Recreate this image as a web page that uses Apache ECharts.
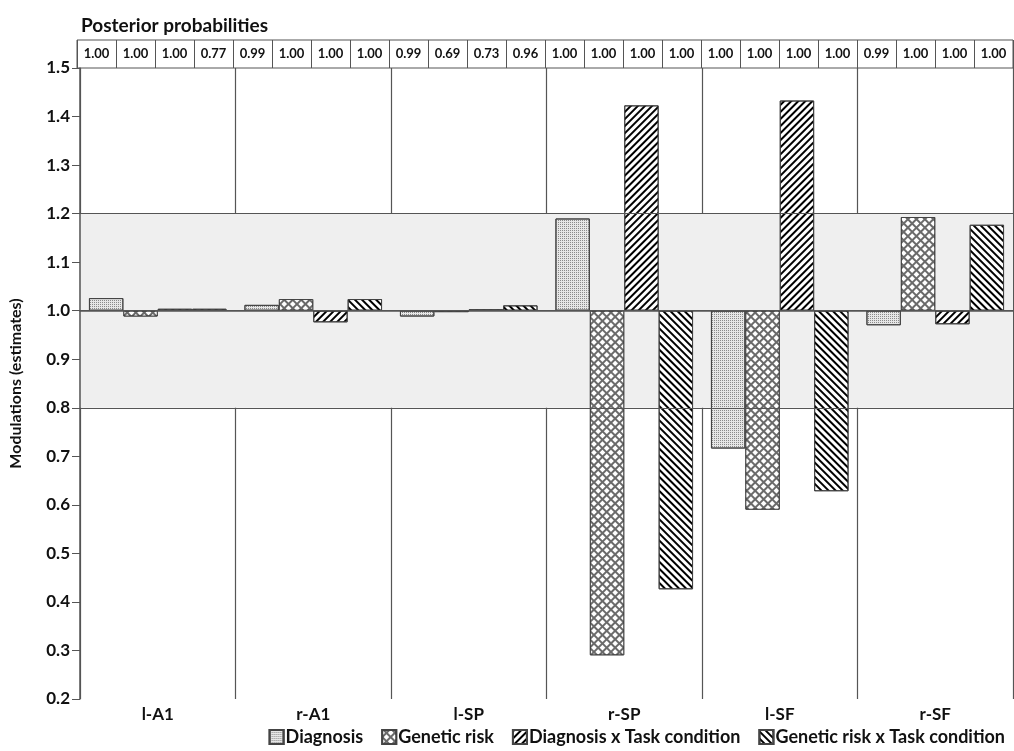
<!DOCTYPE html>
<html>
<head>
<meta charset="utf-8">
<script src="https://cdn.jsdelivr.net/npm/echarts@6/dist/echarts.min.js"></script>
<style>
html,body{margin:0;padding:0;background:#fff;}
#chart{width:1014px;height:751px;}
</style>
</head>
<body>
<div id="chart"></div>
<script>
var categories = ['l-A1', 'r-A1', 'l-SP', 'r-SP', 'l-SF', 'r-SF'];
var seriesNames = ['Diagnosis', 'Genetic risk', 'Diagnosis x Task condition', 'Genetic risk x Task condition'];
var diagnosis = [1.026, 1.012, 0.988, 1.190, 0.716, 0.970];
var geneticRisk = [0.988, 1.024, 0.997, 0.290, 0.590, 1.193];
var diagnosisTask = [1.004, 0.976, 1.003, 1.423, 1.433, 0.972];
var geneticTask = [1.004, 1.024, 1.011, 0.426, 0.628, 1.177];
var posteriorProbs = [
  '1.00', '1.00', '1.00', '0.77',
  '0.99', '1.00', '1.00', '1.00',
  '0.99', '0.69', '0.73', '0.96',
  '1.00', '1.00', '1.00', '1.00',
  '1.00', '1.00', '1.00', '1.00',
  '0.99', '1.00', '1.00', '1.00'
];
var yTicks = {min: 0.2, max: 1.5, interval: 0.1};
var baseline = 1.0;

var FONT = 'Lato';
var chart = echarts.init(document.getElementById('chart'), null, {renderer: 'canvas'});

function rel(arr) { return arr.map(function (v) { return +(v - baseline).toFixed(4); }); }

var decals = [
  {symbol: 'rect', symbolSize: 1, color: '#8a8a8a', dashArrayX: [1, 1], dashArrayY: [1, 1]},
  {symbol: 'rect', symbolSize: 1, color: '#ffffff', dashArrayX: [4, 1.4], dashArrayY: [4, 1.4], rotation: Math.PI / 4},
  {symbol: 'rect', symbolSize: 1, color: '#000', dashArrayX: [1, 0], dashArrayY: [1.7, 2.3], rotation: -Math.PI / 4},
  {symbol: 'rect', symbolSize: 1, color: '#000', dashArrayX: [1, 0], dashArrayY: [1.8, 2.8], rotation: Math.PI / 4}
];
var fills = ['#e6e6e6', '#6a6a6a', '#ffffff', '#ffffff'];
var values = [diagnosis, geneticRisk, diagnosisTask, geneticTask];

var barSeries = seriesNames.map(function (name, i) {
  return {
    name: name,
    type: 'bar',
    xAxisIndex: 0,
    yAxisIndex: 0,
    z: 3,
    barGap: '0%',
    barCategoryGap: '11.5%',
    data: rel(values[i]),
    itemStyle: {color: fills[i], borderColor: '#444', borderWidth: 1, decal: decals[i]}
  };
});

var option = {
  animation: false,
  backgroundColor: '#ffffff',
  aria: {enabled: false},
  title: {
    text: 'Posterior probabilities',
    left: 76, top: 11,
    textStyle: {fontFamily: FONT, fontWeight: 'bold', fontSize: 19, color: '#111'}
  },
  legend: {
    data: seriesNames,
    right: 4, bottom: 0,
    itemWidth: 14, itemHeight: 14, itemGap: 18,
    icon: 'rect',
    textStyle: {fontFamily: FONT, fontWeight: 'bold', fontSize: 18, color: '#111', padding: [0, 0, 0, -3]}
  },
  grid: [
    {left: 77, right: 1, top: 68, bottom: 52, containLabel: false},
    {left: 77, right: 1, top: 40, height: 28, show: true, borderColor: '#555', borderWidth: 1, backgroundColor: '#fff'}
  ],
  xAxis: [
    {
      type: 'category', gridIndex: 0, data: categories, z: 1,
      axisLine: {show: true, lineStyle: {color: '#555', width: 1.5}},
      axisTick: {show: false},
      axisLabel: {fontFamily: FONT, fontWeight: 'bold', fontSize: 17, color: '#111', margin: 7, interval: 0},
      splitLine: {show: true, interval: 0, lineStyle: {color: '#555', width: 1.2}}
    },
    {
      type: 'category', gridIndex: 1, data: posteriorProbs, position: 'top',
      axisLine: {show: false}, axisTick: {show: false},
      axisLabel: {inside: true, margin: 7, interval: 0, fontFamily: FONT, fontWeight: 'bold', fontSize: 13, color: '#111'},
      splitLine: {show: true, interval: 0, lineStyle: {color: '#555', width: 1}}
    }
  ],
  yAxis: [
    {
      type: 'value', gridIndex: 0, z: 1,
      min: +(yTicks.min - baseline).toFixed(1), max: +(yTicks.max - baseline).toFixed(1), interval: yTicks.interval,
      name: 'Modulations (estimates)', nameLocation: 'middle', nameGap: 56, nameRotate: 90,
      nameTextStyle: {fontFamily: FONT, fontWeight: 'bold', fontSize: 16, color: '#111'},
      axisLine: {show: true, lineStyle: {color: '#555', width: 1.5}},
      axisTick: {show: true, inside: false, length: 8, lineStyle: {color: '#555'}},
      axisLabel: {
        fontFamily: FONT, fontWeight: 'bold', fontSize: 17, color: '#111', margin: 10,
        formatter: function (v) { return (v + baseline).toFixed(1); }
      },
      splitLine: {show: false}
    },
    {type: 'value', gridIndex: 1, min: 0, max: 1, show: false}
  ],
  series: [
    {
      name: 'band', type: 'line', xAxisIndex: 0, yAxisIndex: 0, z: 0, data: [],
      silent: true,
      markArea: {
        silent: true,
        itemStyle: {color: '#efefef'},
        data: [[{yAxis: 0.8 - baseline}, {yAxis: 1.2 - baseline}]]
      },
      markLine: {
        silent: true, symbol: ['none', 'none'], label: {show: false},
        lineStyle: {color: '#555', type: 'solid', width: 1.2},
        data: [{yAxis: 0.8 - baseline}, {yAxis: 0}, {yAxis: 1.2 - baseline}]
      }
    }
  ].concat(barSeries)
};
chart.setOption(option);
</script>
</body>
</html>
